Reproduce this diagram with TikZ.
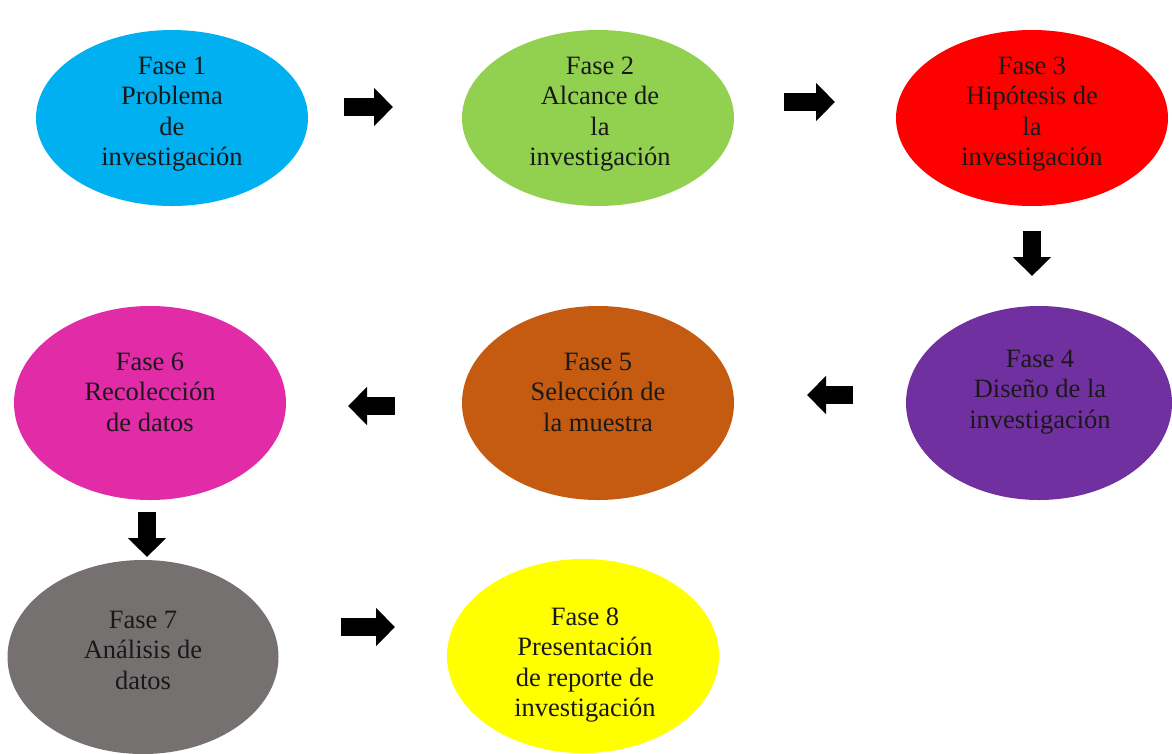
\documentclass[tikz,border=0pt]{standalone}
\usepackage{fontspec}
\setmainfont{Liberation Serif}
\usepackage{tikz}
\usetikzlibrary{shapes.geometric, arrows.meta, positioning}

\definecolor{cfase1}{HTML}{00B0F0}
\definecolor{cfase2}{HTML}{92D050}
\definecolor{cfase3}{HTML}{FF0000}
\definecolor{cfase4}{HTML}{7030A0}
\definecolor{cfase5}{HTML}{C55A11}
\definecolor{cfase6}{HTML}{E12BA7}
\definecolor{cfase7}{HTML}{767171}
\definecolor{cfase8}{HTML}{FFFF00}

\begin{document}
\begin{tikzpicture}[x=1pt, y=-1pt]
\tikzstyle{fase} = [ellipse, draw=none, minimum width=272pt, minimum height=176pt, inner sep=0pt]
\tikzstyle{fasetall} = [fase, minimum height=194pt]
\tikzstyle{fasetxt} = [align=center, inner sep=0pt, font=\fontsize{26.5}{30.5}\selectfont, text=black!90]
\tikzstyle{flecha} = [line width=18pt, -{Triangle[length=19pt, width=37pt]}, black]

\useasboundingbox[fill=white] (0,0) rectangle (1172,753);

% Fila 1
\node[fase, fill=cfase1] (f1) at (172,118) {};
\node[fase, fill=cfase2] (f2) at (598,118) {};
\node[fase, fill=cfase3] (f3) at (1032,118) {};

% Fila 2
\node[fasetall, fill=cfase4, minimum width=266pt] (f4) at (1039,403) {};
\node[fasetall, fill=cfase5] (f5) at (598,403) {};
\node[fasetall, fill=cfase6] (f6) at (150,403) {};

% Fila 3
\node[fasetall, fill=cfase7, minimum width=271pt] (f7) at (143,657) {};
\node[fasetall, fill=cfase8] (f8) at (583,656) {};

% Textos
\node[fasetxt] (t1) at (172,114) {Fase 1\\Problema\\de\\investigación};
\node[fasetxt] (t2) at (600,114) {Fase 2\\Alcance de\\la\\investigación};
\node[fasetxt] (t3) at (1032,114) {Fase 3\\Hipótesis de\\la\\investigación};
\node[fasetxt] (t4) at (1040,392) {Fase 4\\Diseño de la\\investigación};
\node[fasetxt] (t5) at (598,392) {Fase 5\\Selección de\\la muestra};
\node[fasetxt] (t6) at (150,392) {Fase 6\\Recolección\\de datos};
\node[fasetxt] (t7) at (143,650) {Fase 7\\Análisis de\\datos};
\node[fasetxt] (t8) at (585,665) {Fase 8\\Presentación\\de reporte de\\investigación};

% Flechas
\coordinate (a1s) at (344,107);  \coordinate (a1e) at (393,107);
\coordinate (a2s) at (784,102);  \coordinate (a2e) at (835,102);
\coordinate (a3s) at (1032,231); \coordinate (a3e) at (1032,276);
\coordinate (a4s) at (853,395);  \coordinate (a4e) at (807,395);
\coordinate (a5s) at (395,406);  \coordinate (a5e) at (348,406);
\coordinate (a6s) at (147,512);  \coordinate (a6e) at (147,557);
\coordinate (a7s) at (341,627);  \coordinate (a7e) at (395,627);

\draw[flecha] (a1s) -- (a1e);
\draw[flecha] (a2s) -- (a2e);
\draw[flecha] (a3s) -- (a3e);
\draw[flecha] (a4s) -- (a4e);
\draw[flecha] (a5s) -- (a5e);
\draw[flecha] (a6s) -- (a6e);
\draw[flecha] (a7s) -- (a7e);
\end{tikzpicture}
\end{document}
